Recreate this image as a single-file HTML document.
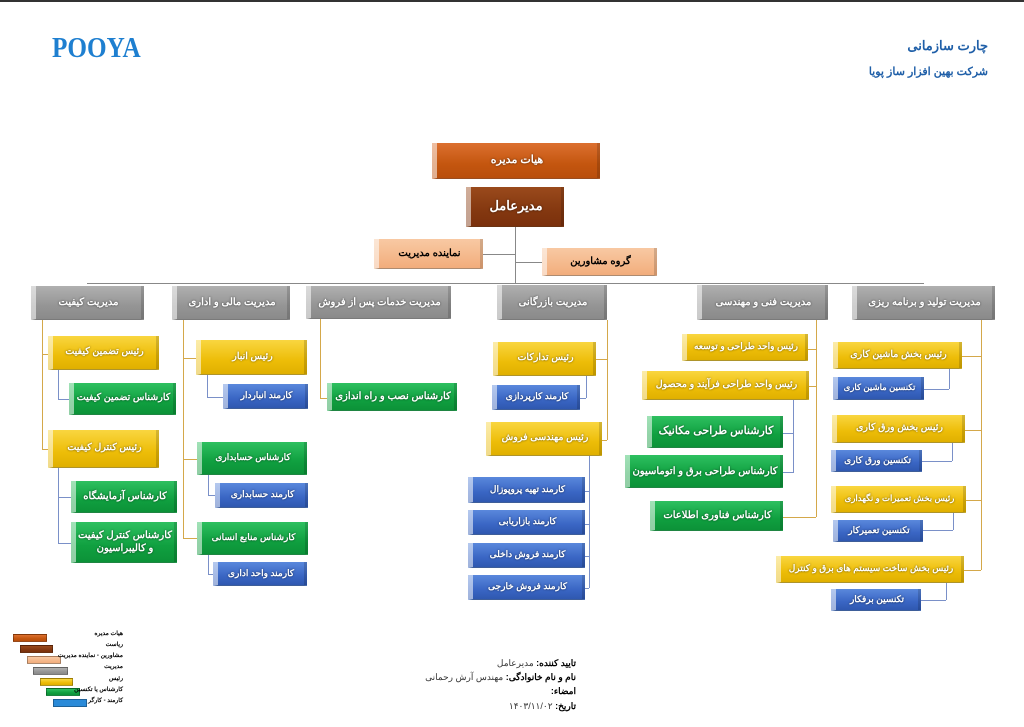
<!DOCTYPE html>
<html><head><meta charset="utf-8"><style>
body{margin:0;width:1024px;height:727px;background:#fff;position:relative;overflow:hidden;font-family:"Liberation Sans","Noto Sans CJK SC",sans-serif}
.b{position:absolute;box-sizing:border-box;display:flex;align-items:center;justify-content:center;text-align:center;direction:rtl;font-weight:bold;color:#fff;font-size:10px;line-height:1.3;white-space:nowrap;overflow:hidden;text-shadow:0 0 2px rgba(0,0,0,.6);border-left:5px solid rgba(255,255,255,.55);border-right:3px solid rgba(0,0,0,.15);border-bottom:1px solid rgba(0,0,0,.3)}
.w{white-space:normal}
.o{background:linear-gradient(#dc7030,#c4560f 60%,#b94e0c)}
.br{background:linear-gradient(#9a4a1c,#843810 60%,#7a300c)}
.p{background:linear-gradient(#f8c9a3,#f2ad7c);color:#000;text-shadow:none}
.g{background:linear-gradient(#b0b0b0,#959595 60%,#8a8a8a)}
.y{background:linear-gradient(#f9d640,#edbd08 60%,#e0b000);font-size:9.5px}
.gr{background:linear-gradient(#2ec060,#10a040 60%,#0c9238)}
.bl{background:linear-gradient(#5a88dc,#3a66c4 60%,#2f58b0)}
.l{position:absolute;background:#d4a84a}
.k{position:absolute;background:#7a90c8}
.n{position:absolute;background:#888}
.lg{position:absolute;height:8px;box-sizing:border-box;border:1px solid rgba(0,0,0,.3)}
.lt{position:absolute;right:901px;font-size:6px;font-weight:bold;direction:rtl;color:#000;white-space:nowrap}
.s{position:absolute;right:448px;font-size:9px;direction:rtl;color:#333;white-space:nowrap}
</style></head><body>
<div style="position:absolute;left:0;top:0;width:1024px;height:2px;background:#333"></div>
<div style="position:absolute;left:52px;top:33px;font-family:'Liberation Serif',serif;font-size:28px;font-weight:bold;color:#1e7fd0;letter-spacing:0px;transform:scaleX(.9);transform-origin:left">POOYA</div>
<div style="position:absolute;right:36px;top:38px;font-size:13px;font-weight:bold;color:#1f5fa8;direction:rtl">چارت سازمانی</div>
<div style="position:absolute;right:36px;top:65px;font-size:11px;font-weight:bold;color:#1f5fa8;direction:rtl">شرکت بهین افزار ساز پویا</div>

<div class="n" style="left:515px;top:227px;width:1px;height:56px"></div>
<div class="n" style="left:483px;top:254px;width:32px;height:1px"></div>
<div class="n" style="left:515px;top:262px;width:27px;height:1px"></div>
<div class="n" style="left:87px;top:283px;width:837px;height:1px"></div>

<div class="b o" style="left:432px;top:143px;width:168px;height:36px;font-size:11px">هیات مدیره</div>
<div class="b br" style="left:466px;top:187px;width:98px;height:40px;font-size:13px">مدیرعامل</div>
<div class="b p" style="left:374px;top:239px;width:109px;height:30px">نماینده مدیریت</div>
<div class="b p" style="left:542px;top:248px;width:115px;height:28px">گروه مشاورین</div>

<div class="b g" style="left:31px;top:286px;width:113px;height:34px">مدیریت کیفیت</div>
<div class="b g" style="left:172px;top:286px;width:118px;height:34px">مدیریت مالی و اداری</div>
<div class="b g" style="left:306px;top:286px;width:145px;height:33px">مدیریت خدمات پس از فروش</div>
<div class="b g" style="left:497px;top:285px;width:110px;height:35px">مدیریت بازرگانی</div>
<div class="b g" style="left:697px;top:285px;width:131px;height:35px">مدیریت فنی و مهندسی</div>
<div class="b g" style="left:852px;top:286px;width:143px;height:34px">مدیریت تولید و برنامه ریزی</div>

<div class="l" style="left:42px;top:320px;width:1px;height:129px"></div>
<div class="l" style="left:42px;top:354px;width:6px;height:1px"></div>
<div class="l" style="left:42px;top:449px;width:6px;height:1px"></div>
<div class="k" style="left:58px;top:370px;width:1px;height:30px"></div>
<div class="k" style="left:58px;top:399px;width:11px;height:1px"></div>
<div class="k" style="left:58px;top:468px;width:1px;height:75px"></div>
<div class="k" style="left:58px;top:497px;width:13px;height:1px"></div>
<div class="k" style="left:58px;top:543px;width:13px;height:1px"></div>
<div class="b y" style="left:48px;top:336px;width:111px;height:34px">رئیس تضمین کیفیت</div>
<div class="b gr" style="left:69px;top:383px;width:107px;height:32px;font-size:9.5px">کارشناس تضمین کیفیت</div>
<div class="b y" style="left:48px;top:430px;width:111px;height:38px">رئیس کنترل کیفیت</div>
<div class="b gr" style="left:71px;top:481px;width:106px;height:32px">کارشناس آزمایشگاه</div>
<div class="b gr w" style="left:71px;top:522px;width:106px;height:41px">کارشناس کنترل کیفیت و کالیبراسیون</div>

<div class="l" style="left:183px;top:320px;width:1px;height:218px"></div>
<div class="l" style="left:183px;top:358px;width:13px;height:1px"></div>
<div class="l" style="left:183px;top:459px;width:14px;height:1px"></div>
<div class="l" style="left:183px;top:538px;width:14px;height:1px"></div>
<div class="k" style="left:207px;top:375px;width:1px;height:22px"></div>
<div class="k" style="left:207px;top:397px;width:16px;height:1px"></div>
<div class="k" style="left:208px;top:475px;width:1px;height:20px"></div>
<div class="k" style="left:208px;top:495px;width:7px;height:1px"></div>
<div class="k" style="left:208px;top:555px;width:1px;height:19px"></div>
<div class="k" style="left:208px;top:574px;width:5px;height:1px"></div>
<div class="b y" style="left:196px;top:340px;width:111px;height:35px">رئیس انبار</div>
<div class="b bl" style="left:223px;top:384px;width:85px;height:25px;font-size:9px">کارمند انباردار</div>
<div class="b gr" style="left:197px;top:442px;width:110px;height:33px;font-size:9px">کارشناس حسابداری</div>
<div class="b bl" style="left:215px;top:483px;width:93px;height:25px;font-size:9px">کارمند حسابداری</div>
<div class="b gr" style="left:197px;top:522px;width:111px;height:33px;font-size:9px">کارشناس منابع انسانی</div>
<div class="b bl" style="left:213px;top:562px;width:94px;height:24px;font-size:9px">کارمند واحد اداری</div>

<div class="l" style="left:320px;top:319px;width:1px;height:79px"></div>
<div class="l" style="left:320px;top:398px;width:7px;height:1px"></div>
<div class="b gr" style="left:327px;top:383px;width:130px;height:28px;font-size:10px">کارشناس نصب و راه اندازی</div>

<div class="l" style="left:607px;top:320px;width:1px;height:120px"></div>
<div class="l" style="left:596px;top:359px;width:11px;height:1px"></div>
<div class="l" style="left:602px;top:440px;width:5px;height:1px"></div>
<div class="k" style="left:586px;top:376px;width:1px;height:22px"></div>
<div class="k" style="left:580px;top:398px;width:6px;height:1px"></div>
<div class="k" style="left:589px;top:456px;width:1px;height:132px"></div>
<div class="k" style="left:585px;top:491px;width:4px;height:1px"></div>
<div class="k" style="left:585px;top:524px;width:4px;height:1px"></div>
<div class="k" style="left:585px;top:556px;width:4px;height:1px"></div>
<div class="k" style="left:585px;top:588px;width:4px;height:1px"></div>
<div class="b y" style="left:493px;top:342px;width:103px;height:34px">رئیس تدارکات</div>
<div class="b bl" style="left:492px;top:385px;width:88px;height:25px;font-size:9px">کارمند کارپردازی</div>
<div class="b y" style="left:486px;top:422px;width:116px;height:34px">رئیس مهندسی فروش</div>
<div class="b bl" style="left:468px;top:477px;width:117px;height:26px;font-size:9px">کارمند تهیه پروپوزال</div>
<div class="b bl" style="left:468px;top:510px;width:117px;height:25px;font-size:9px">کارمند بازاریابی</div>
<div class="b bl" style="left:468px;top:543px;width:117px;height:25px;font-size:9px">کارمند فروش داخلی</div>
<div class="b bl" style="left:468px;top:575px;width:117px;height:25px;font-size:9px">کارمند فروش خارجی</div>

<div class="l" style="left:816px;top:320px;width:1px;height:197px"></div>
<div class="l" style="left:808px;top:349px;width:8px;height:1px"></div>
<div class="l" style="left:809px;top:386px;width:7px;height:1px"></div>
<div class="l" style="left:783px;top:517px;width:33px;height:1px"></div>
<div class="k" style="left:793px;top:400px;width:1px;height:73px"></div>
<div class="k" style="left:783px;top:433px;width:10px;height:1px"></div>
<div class="k" style="left:783px;top:472px;width:10px;height:1px"></div>
<div class="b y" style="left:682px;top:334px;width:126px;height:27px;font-size:9px">رئیس واحد طراحی و توسعه</div>
<div class="b y" style="left:642px;top:371px;width:167px;height:29px">رئیس واحد طراحی فرآیند و محصول</div>
<div class="b gr" style="left:647px;top:416px;width:136px;height:32px;font-size:11px">کارشناس طراحی مکانیک</div>
<div class="b gr" style="left:625px;top:455px;width:158px;height:33px">کارشناس طراحی برق و اتوماسیون</div>
<div class="b gr" style="left:650px;top:501px;width:133px;height:30px">کارشناس فناوری اطلاعات</div>

<div class="l" style="left:981px;top:320px;width:1px;height:250px"></div>
<div class="l" style="left:962px;top:356px;width:19px;height:1px"></div>
<div class="l" style="left:965px;top:430px;width:16px;height:1px"></div>
<div class="l" style="left:966px;top:500px;width:15px;height:1px"></div>
<div class="l" style="left:964px;top:570px;width:17px;height:1px"></div>
<div class="k" style="left:949px;top:369px;width:1px;height:20px"></div>
<div class="k" style="left:924px;top:389px;width:25px;height:1px"></div>
<div class="k" style="left:952px;top:443px;width:1px;height:18px"></div>
<div class="k" style="left:922px;top:461px;width:30px;height:1px"></div>
<div class="k" style="left:953px;top:513px;width:1px;height:17px"></div>
<div class="k" style="left:923px;top:530px;width:30px;height:1px"></div>
<div class="k" style="left:946px;top:583px;width:1px;height:17px"></div>
<div class="k" style="left:921px;top:600px;width:25px;height:1px"></div>
<div class="b y" style="left:833px;top:342px;width:129px;height:27px">رئیس بخش ماشین کاری</div>
<div class="b bl" style="left:833px;top:377px;width:91px;height:23px;font-size:8.5px">تکنسین ماشین کاری</div>
<div class="b y" style="left:832px;top:415px;width:133px;height:28px">رئیس بخش ورق کاری</div>
<div class="b bl" style="left:831px;top:450px;width:91px;height:22px;font-size:9px">تکنسین ورق کاری</div>
<div class="b y" style="left:831px;top:486px;width:135px;height:27px;font-size:8.5px">رئیس بخش تعمیرات و نگهداری</div>
<div class="b bl" style="left:833px;top:520px;width:90px;height:22px;font-size:9px">تکنسین تعمیرکار</div>
<div class="b y" style="left:776px;top:556px;width:188px;height:27px;font-size:9px">رئیس بخش ساخت سیستم های برق و کنترل</div>
<div class="b bl" style="left:831px;top:589px;width:90px;height:22px;font-size:9px">تکنسین برفکار</div>

<div class="lg o" style="left:13px;top:634px;width:34px"></div>
<div class="lg br" style="left:20px;top:645px;width:33px"></div>
<div class="lg p" style="left:27px;top:656px;width:34px"></div>
<div class="lg g" style="left:33px;top:667px;width:35px"></div>
<div class="lg y" style="left:40px;top:678px;width:33px"></div>
<div class="lg gr" style="left:46px;top:688px;width:34px"></div>
<div class="lg bl" style="left:53px;top:699px;width:34px;background:#2a8ad8"></div>
<div class="lt" style="top:630px">هیات مدیره</div>
<div class="lt" style="top:641px">ریاست</div>
<div class="lt" style="top:652px">مشاورین - نماینده مدیریت</div>
<div class="lt" style="top:663px">مدیریت</div>
<div class="lt" style="top:675px">رئیس</div>
<div class="lt" style="top:686px">کارشناس یا تکنسین</div>
<div class="lt" style="top:697px">کارمند - کارگر</div>

<div class="s" style="top:658px"><b style="color:#000">تایید کننده:</b> مدیرعامل</div>
<div class="s" style="top:672px"><b style="color:#000">نام و نام خانوادگی:</b> مهندس آرش رحمانی</div>
<div class="s" style="top:686px"><b style="color:#000">امضاء:</b></div>
<div class="s" style="top:701px"><b style="color:#000">تاریخ:</b> ۱۴۰۳/۱۱/۰۲</div>
</body></html>
